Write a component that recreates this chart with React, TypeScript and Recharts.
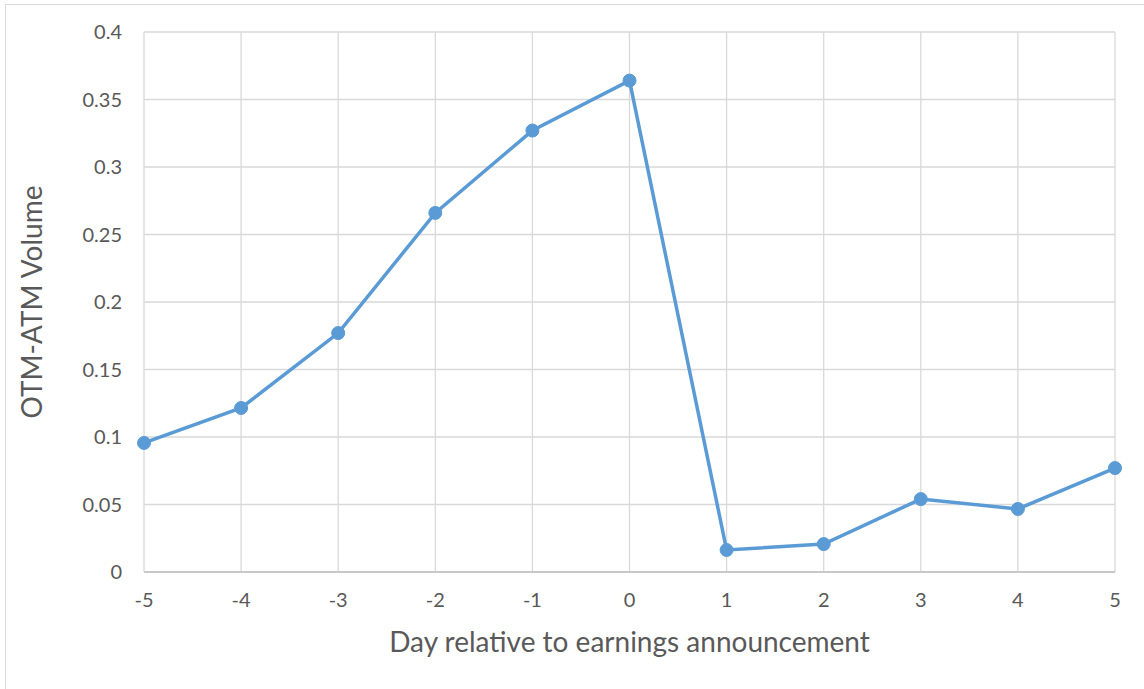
import { LineChart, Line, XAxis, YAxis, CartesianGrid } from 'recharts';

const days = [-5, -4, -3, -2, -1, 0, 1, 2, 3, 4, 5];
const otmAtmVolume = [0.0956, 0.1215, 0.177, 0.266, 0.327, 0.364, 0.0163, 0.0207, 0.054, 0.0467, 0.077];
const yTicks = [0, 0.05, 0.1, 0.15, 0.2, 0.25, 0.3, 0.35, 0.4];

const data = days.map((d, i) => ({ day: d, volume: otmAtmVolume[i] }));

const font = 'Lato, "Open Sans", sans-serif';

export default function App() {
  return (
    <div
      style={{
        position: 'absolute',
        left: 0,
        top: 0,
        width: 1144,
        height: 689,
        background: '#fff',
        fontFamily: font,
      }}
    >
      {/* thin outer frame, cut off on the right and bottom like the original */}
      <div
        style={{
          position: 'absolute',
          left: 5,
          top: 4,
          width: 1145,
          height: 690,
          border: '1px solid #d9d9d9',
          boxSizing: 'border-box',
        }}
      />
      <div style={{ position: 'absolute', left: 0, top: 0 }}>
        <LineChart
          width={1144}
          height={689}
          data={data}
          margin={{ top: 32, right: 29, bottom: 0, left: 0 }}
        >
          <CartesianGrid stroke="#d9d9d9" strokeWidth={1.3} />
          <XAxis
            dataKey="day"
            type="number"
            domain={[-5, 5]}
            ticks={days}
            tickSize={0}
            tickMargin={21}
            axisLine={{ stroke: '#bfbfbf', strokeWidth: 1.5 }}
            tick={{ fill: '#595959', fontSize: 20, fontFamily: font }}
            height={117}
            label={{
              value: 'Day relative to earnings announcement',
              position: 'insideBottom',
              offset: 37,
              fill: '#595959',
              fontSize: 28,
              fontFamily: font,
            }}
          />
          <YAxis
            type="number"
            domain={[0, 0.4]}
            ticks={yTicks}
            width={144}
            tickSize={0}
            tickMargin={22}
            axisLine={false}
            tick={{ fill: '#595959', fontSize: 20, fontFamily: font }}
            label={{
              value: 'OTM-ATM Volume',
              angle: -90,
              position: 'insideLeft',
              offset: 32,
              fill: '#595959',
              fontSize: 28,
              fontFamily: font,
              style: { textAnchor: 'middle' },
            }}
          />
          <Line
            dataKey="volume"
            stroke="#5b9bd5"
            strokeWidth={3.5}
            dot={{ r: 6.5, fill: '#5b9bd5', stroke: '#5b9bd5', strokeWidth: 1 }}
            isAnimationActive={false}
          />
        </LineChart>
      </div>
    </div>
  );
}
